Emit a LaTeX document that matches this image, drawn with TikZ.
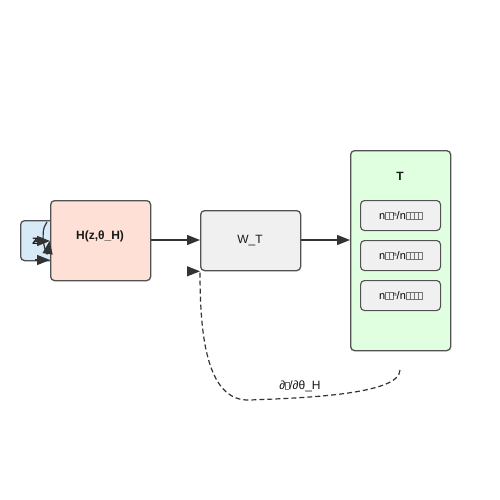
\documentclass[tikz,border=0pt]{standalone}
\usepackage{fontspec}
\setmainfont{Liberation Sans}
\usetikzlibrary{arrows.meta}
\definecolor{zfill}{HTML}{D6EAF8}
\definecolor{hfill}{HTML}{FFE0D6}
\definecolor{tfill}{HTML}{E0FFE0}
\definecolor{gfill}{HTML}{F0F0F0}
\definecolor{edge}{HTML}{333333}
\newcommand\tofu{{\setlength\fboxsep{0pt}\setlength\fboxrule{0.3pt}\color{black!55}\fbox{\rule{0pt}{7pt}\hspace{3.4pt}}}}
\newcommand\subtext{\fontsize{11}{13}\selectfont n\tofu\tofu\raisebox{2.5pt}{\fontsize{6}{6}\selectfont n}/n{\fontsize{8}{8}\selectfont\tofu\tofu\tofu\tofu}}
\begin{document}
\begin{tikzpicture}[x=1pt,y=-1pt,
  box/.style={draw=edge!85!white,line width=1.3pt,rounded corners=4pt,anchor=north west,inner sep=0pt},
  arr/.style={draw=edge,line width=1.2pt,-{Triangle[length=13pt,width=10pt]}},
  lbl/.style={font=\fontsize{12}{14}\selectfont,text=black!90}]
\useasboundingbox (0,0) rectangle (500,500);
\fill[white] (0,0) rectangle (500,500);
% z box
\node[box,fill=zfill,minimum width=35pt,minimum height=40pt] (z) at (20,220) {};
\node[lbl,font=\bfseries\fontsize{12}{14}\selectfont] (zt) at (35,241) {z};
% H box
\node[box,fill=hfill,minimum width=100pt,minimum height=80pt] (H) at (50,200) {};
\node[lbl,font=\bfseries\fontsize{12}{14}\selectfont] (Ht) at (100,236) {H(z,θ\_H)};
% W box
\node[box,fill=gfill,minimum width=100pt,minimum height=60pt] (W) at (200,210) {};
\node[lbl] (Wt) at (250,241) {W\_T};
% T box
\node[box,fill=tfill,minimum width=100pt,minimum height=200pt] (T) at (350,150) {};
\node[lbl,font=\bfseries\fontsize{12}{14}\selectfont] (Tt) at (400,176) {T};
\node[box,fill=gfill,minimum width=80pt,minimum height=30pt,line width=1.1pt] (s1) at (360,200) {};
\node[box,fill=gfill,minimum width=80pt,minimum height=30pt,line width=1.1pt] (s2) at (360,240) {};
\node[box,fill=gfill,minimum width=80pt,minimum height=30pt,line width=1.1pt] (s3) at (360,280) {};
\node (s1t) at (s1.center) {\subtext};
\node (s2t) at (s2.center) {\subtext};
\node (s3t) at (s3.center) {\subtext};
% connectors z -> H
\draw[arr] (zt.center) -- (H.west |- zt.center);
\draw[arr] (35,260) -- (H.west |- 0,260);
\draw[arr] (47,222) .. controls (38,233) and (47,258) .. (49.5,241);
% main flow
\draw[arr] (H.east |- 0,240) -- (W.west |- 0,240);
\draw[arr] (W.east |- 0,240) -- (T.west |- 0,240);
% feedback
\coordinate (fb) at (400,370);
\draw[draw=edge,line width=1.2pt,dash pattern=on 5pt off 3pt]
  (fb) .. controls (400,395) and (300,398) .. (250,400)
  .. controls (205,402) and (200,330) .. (W.south west);
\draw[arr] ([xshift=-1pt]W.south west) -- (W.south west);
\node[lbl] (fbt) at (300,386) {∂\tofu/∂θ\_H};
\end{tikzpicture}
\end{document}
